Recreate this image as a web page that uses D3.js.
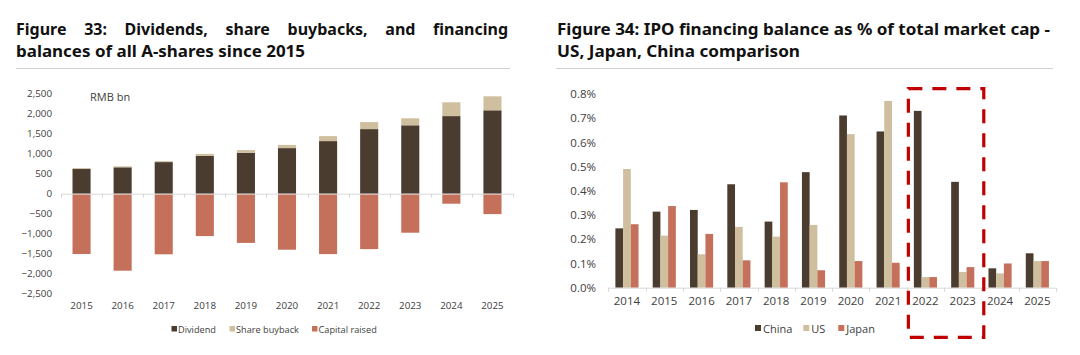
<!DOCTYPE html>
<html><head><meta charset="utf-8">
<script src="https://cdn.jsdelivr.net/npm/d3@7/dist/d3.min.js"></script>
<style>
html,body{margin:0;padding:0;background:#fff;}
svg{display:block;}
</style></head>
<body><svg id="c" width="1080" height="355"></svg>
<script>
// ---------- Data: Figure 33 ----------
const years33 = ["2015","2016","2017","2018","2019","2020","2021","2022","2023","2024","2025"];
const dividend = [617, 660, 790, 945, 1020, 1140, 1315, 1615, 1710, 1940, 2085];
const buyback  = [23, 23, 25, 50, 70, 80, 125, 175, 175, 345, 350];
const capitalRaised = [-1508, -1925, -1515, -1060, -1230, -1400, -1510, -1385, -975, -250, -510];
const ticks33 = [-2500,-2000,-1500,-1000,-500,0,500,1000,1500,2000,2500];
const series33 = ["Dividend","Share buyback","Capital raised"];

// ---------- Data: Figure 34 ----------
const years34 = ["2014","2015","2016","2017","2018","2019","2020","2021","2022","2023","2024","2025"];
const china = [0.245, 0.314, 0.321, 0.427, 0.273, 0.477, 0.711, 0.645, 0.730, 0.437, 0.080, 0.142];
const us    = [0.490, 0.215, 0.138, 0.251, 0.211, 0.259, 0.634, 0.771, 0.044, 0.065, 0.059, 0.110];
const japan = [0.262, 0.337, 0.222, 0.113, 0.435, 0.072, 0.110, 0.103, 0.044, 0.085, 0.100, 0.110];
const ticks34 = [0,0.1,0.2,0.3,0.4,0.5,0.6,0.7,0.8];
const series34 = ["China","US","Japan"];
const highlight34 = ["2022","2023"];

const colDiv = "#4b3c30", colBuy = "#cfbf9f", colCap = "#c5705a";
const svg = d3.select("#c");
const FONT = "'Open Sans', 'Noto Sans', sans-serif";
const titleFont = "'Noto Sans', 'Open Sans', sans-serif";
const TS = 16;

// ---------- Titles ----------
function justifyLine(txt, x0, x1, y){
  const words = txt.split(" ");
  const g = svg.append("g");
  const nodes = words.map(w => g.append("text").attr("y", y).attr("font-family", titleFont)
     .attr("font-weight", 700).attr("font-size", TS).attr("fill", "#111").text(w));
  const widths = nodes.map(n => n.node().getComputedTextLength());
  const total = d3.sum(widths);
  const gap = (x1 - x0 - total) / (words.length - 1);
  let x = x0;
  nodes.forEach((n,i)=>{ n.attr("x", x); x += widths[i] + gap; });
}
function plainLine(txt, x, y, w){
  const t = svg.append("text").attr("x", x).attr("y", y).attr("font-family", titleFont)
     .attr("font-weight", 700).attr("font-size", TS).attr("fill", "#111").text(txt);
  if (w) t.attr("textLength", w).attr("lengthAdjust", "spacingAndGlyphs");
}
justifyLine("Figure 33: Dividends, share buybacks, and financing", 16, 508, 35);
plainLine("balances of all A-shares since 2015", 16, 57, 289);
plainLine("Figure 34: IPO financing balance as % of total market cap -", 557, 35, 493);
plainLine("US, Japan, China comparison", 557, 57, 243);
svg.append("line").attr("x1",16).attr("x2",510).attr("y1",68.5).attr("y2",68.5).attr("stroke","#d0d0d0").attr("stroke-width",1);
svg.append("line").attr("x1",556).attr("x2",1053).attr("y1",68.5).attr("y2",68.5).attr("stroke","#d0d0d0").attr("stroke-width",1);

// ---------- Figure 33 ----------
const x33 = d3.scaleBand().domain(years33).range([61,513]).paddingInner(0.56).paddingOuter(0.28);
const y33 = d3.scaleLinear().domain([-2500,2500]).range([293.7,93.7]);
const g33 = svg.append("g");
g33.selectAll(".cap").data(years33).join("rect")
  .attr("x", d=>x33(d)).attr("width", x33.bandwidth())
  .attr("y", y33(0)).attr("height", (d,i)=>y33(capitalRaised[i]) - y33(0)).attr("fill", colCap);
g33.selectAll(".div").data(years33).join("rect")
  .attr("x", d=>x33(d)).attr("width", x33.bandwidth())
  .attr("y", (d,i)=>y33(dividend[i])).attr("height", (d,i)=>y33(0)-y33(dividend[i])).attr("fill", colDiv);
g33.selectAll(".buy").data(years33).join("rect")
  .attr("x", d=>x33(d)).attr("width", x33.bandwidth())
  .attr("y", (d,i)=>y33(dividend[i]+buyback[i])).attr("height", (d,i)=>y33(dividend[i])-y33(dividend[i]+buyback[i])).attr("fill", colBuy);
g33.append("line").attr("x1",61).attr("x2",513).attr("y1",y33(0)+0.5).attr("y2",y33(0)+0.5).attr("stroke","#d9d9d9");
d3.range(years33.length+1).forEach(i=>{
  const xx = Math.round(61 + i*x33.step()) + 0.5;
  g33.append("line").attr("x1",xx).attr("x2",xx).attr("y1",y33(0)).attr("y2",y33(0)+4).attr("stroke","#d9d9d9");
});
const ya33 = d3.axisLeft(y33).tickValues(ticks33).tickSize(0).tickPadding(0).tickFormat(d3.format(","));
const yg33 = svg.append("g").attr("transform","translate(52,0)").call(ya33);
yg33.select(".domain").remove();
yg33.selectAll("text").attr("font-family",FONT).attr("font-size",9.8).attr("fill","#404040");
const xa33 = d3.axisBottom(x33).tickSize(0).tickPadding(0);
const xg33 = svg.append("g").attr("transform","translate(0,302)").call(xa33);
xg33.select(".domain").remove();
xg33.selectAll("text").attr("font-family",FONT).attr("font-size",9.8).attr("fill","#404040");
svg.append("text").attr("x",90).attr("y",100.5).attr("font-family",FONT).attr("font-size",11).attr("fill","#404040").text("RMB bn");
const leg33x = [171.5, 229.5, 312];
const leg33c = [colDiv, colBuy, colCap];
series33.forEach((s,i)=>{
  svg.append("rect").attr("x",leg33x[i]).attr("y",326).attr("width",5.5).attr("height",5.5).attr("fill",leg33c[i]);
  svg.append("text").attr("x",leg33x[i]+6.5).attr("y",332.5).attr("font-family",FONT).attr("font-size",9.2).attr("fill","#404040").text(s);
});

// ---------- Figure 34 ----------
const x34 = d3.scaleBand().domain(years34).range([608.3,1056]).paddingInner(0.38).paddingOuter(0.19);
const xs34 = d3.scaleBand().domain(series34).range([0, x34.bandwidth()]);
const y34 = d3.scaleLinear().domain([0,0.8]).range([287.7,93.9]);
const vals34 = [china, us, japan];
const col34 = [colDiv, colBuy, colCap];
const g34 = svg.append("g");
series34.forEach((s,si)=>{
  g34.selectAll(".s"+si).data(years34).join("rect")
    .attr("x", d=>x34(d)+xs34(s)).attr("width", xs34.bandwidth())
    .attr("y", (d,i)=>y34(vals34[si][i])).attr("height", (d,i)=>y34(0)-y34(vals34[si][i]))
    .attr("fill", col34[si]);
});
g34.append("line").attr("x1",608.3).attr("x2",1056).attr("y1",y34(0)+0.5).attr("y2",y34(0)+0.5).attr("stroke","#d9d9d9");
d3.range(years34.length+1).forEach(i=>{
  const xx = Math.round(608.3 + i*x34.step()) + 0.5;
  g34.append("line").attr("x1",xx).attr("x2",xx).attr("y1",y34(0)).attr("y2",y34(0)+4).attr("stroke","#d9d9d9");
});
const ya34 = d3.axisLeft(y34).tickValues(ticks34).tickSize(0).tickPadding(0).tickFormat(d=>d.toFixed(1)+"%");
const yg34 = svg.append("g").attr("transform","translate(596,0)").call(ya34);
yg34.select(".domain").remove();
yg34.selectAll("text").attr("font-family",FONT).attr("font-size",11.5).attr("fill","#404040");
const xa34 = d3.axisBottom(x34).tickSize(0).tickPadding(0);
const xg34 = svg.append("g").attr("transform","translate(0,297)").call(xa34);
xg34.select(".domain").remove();
xg34.selectAll("text").attr("font-family",FONT).attr("font-size",11.5).attr("fill","#404040");
const leg34x = [755, 803.3, 838.3];
series34.forEach((s,i)=>{
  svg.append("rect").attr("x",leg34x[i]).attr("y",325).attr("width",6).attr("height",6).attr("fill",col34[i]);
  svg.append("text").attr("x",leg34x[i]+8).attr("y",332.5).attr("font-family",FONT).attr("font-size",11).attr("fill","#404040").text(s);
});
// highlight dashed box around 2022-2023
const r0 = x34.range()[0], st = x34.step();
const hx0 = r0 + years34.indexOf(highlight34[0]) * st + 1.6;
const hx1 = r0 + (years34.indexOf(highlight34[1]) + 1) * st + 2.4;
svg.append("rect").attr("x",hx0).attr("y",88.7).attr("width",hx1-hx0).attr("height",337.3-88.7)
  .attr("fill","none").attr("stroke","#c00000").attr("stroke-width",3.2)
  .attr("stroke-dasharray","14,10");
</script></body></html>
